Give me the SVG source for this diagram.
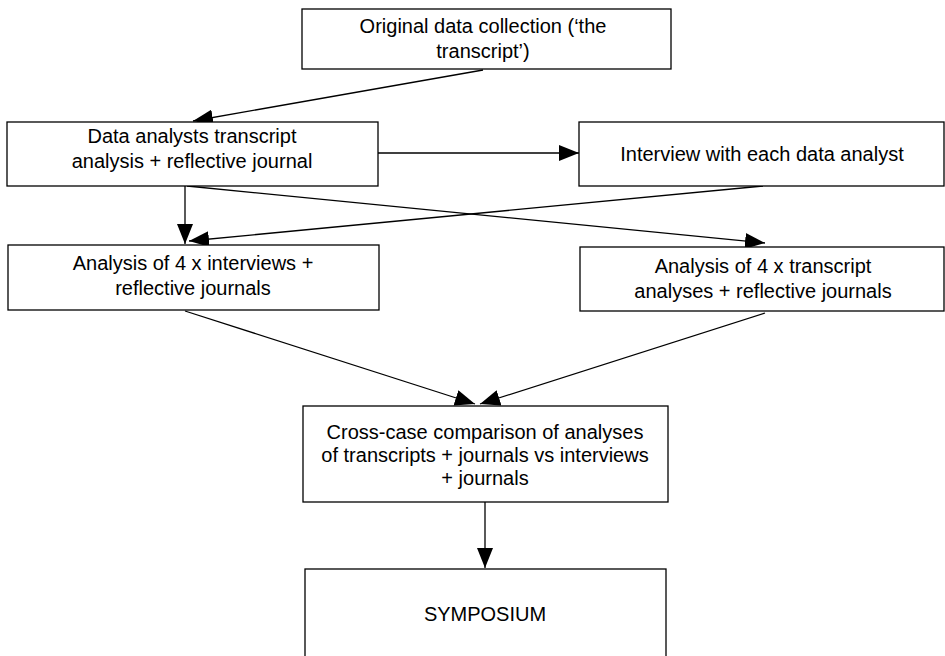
<svg xmlns="http://www.w3.org/2000/svg" width="945" height="656" viewBox="0 0 945 656">
<style>
.box{fill:#fff;stroke:#000;stroke-width:1.3}
.lbl{font-family:"Liberation Sans",Arial,sans-serif;font-size:20px;fill:#000;text-anchor:middle}
.con{stroke:#000;stroke-width:1.3;fill:none;marker-end:url(#ah)}
</style>
<defs>
<marker id="ah" markerUnits="userSpaceOnUse" markerWidth="20" markerHeight="16" refX="20" refY="8" orient="auto">
<path d="M0,0 L20,8 L0,16 Z" fill="#000"/>
</marker>
</defs>
<rect width="945" height="656" fill="#fff"/>
<g id="connectors">
<line class="con" x1="483" y1="70" x2="193" y2="121"/>
<line class="con" x1="378" y1="153" x2="579" y2="153"/>
<line class="con" x1="185" y1="186" x2="185" y2="244"/>
<line class="con" x1="763" y1="186" x2="189" y2="241"/>
<line class="con" x1="187" y1="186" x2="765" y2="243"/>
<line class="con" x1="185" y1="311" x2="475" y2="404"/>
<line class="con" x1="765" y1="313" x2="480" y2="404"/>
<line class="con" x1="485" y1="502" x2="485" y2="568"/>
</g>
<g id="n1">
<rect class="box" x="302" y="9" width="369" height="60"/>
<text class="lbl" x="483" y="33">Original data collection (‘the</text>
<text class="lbl" x="483" y="58">transcript’)</text>
</g>
<g id="n2">
<rect class="box" x="7" y="122" width="371" height="64"/>
<text class="lbl" x="192" y="143">Data analysts transcript</text>
<text class="lbl" x="192" y="168">analysis + reflective journal</text>
</g>
<g id="n3">
<rect class="box" x="579" y="122" width="365" height="64"/>
<text class="lbl" x="762" y="161">Interview with each data analyst</text>
</g>
<g id="n4">
<rect class="box" x="8" y="245" width="371" height="65"/>
<text class="lbl" x="193" y="270">Analysis of 4 x interviews +</text>
<text class="lbl" x="193" y="295">reflective journals</text>
</g>
<g id="n5">
<rect class="box" x="580" y="247" width="364" height="64"/>
<text class="lbl" x="763" y="273">Analysis of 4 x transcript</text>
<text class="lbl" x="763" y="298">analyses + reflective journals</text>
</g>
<g id="n6">
<rect class="box" x="303" y="406" width="365" height="96"/>
<text class="lbl" x="485" y="439">Cross-case comparison of analyses</text>
<text class="lbl" x="485" y="462">of transcripts + journals vs interviews</text>
<text class="lbl" x="485" y="485">+ journals</text>
</g>
<g id="n7">
<rect class="box" x="305" y="569" width="361" height="95"/>
<text class="lbl" x="485" y="621">SYMPOSIUM</text>
</g>
</svg>
